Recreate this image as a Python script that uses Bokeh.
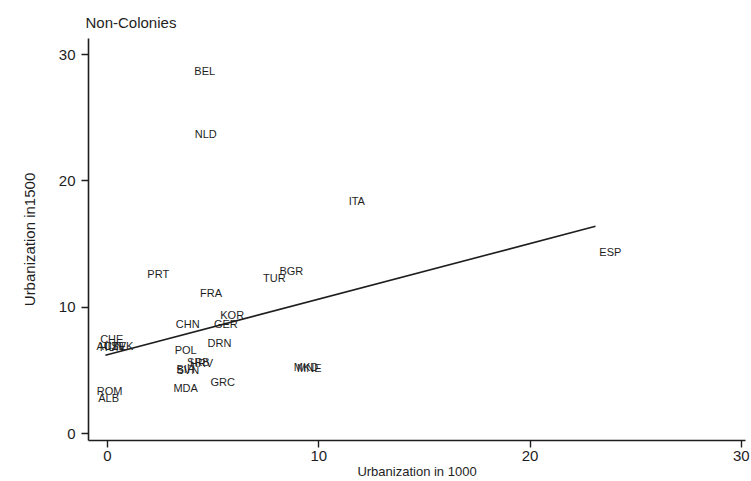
from bokeh.plotting import figure
from bokeh.models import ColumnDataSource, Range1d, FixedTicker
from bokeh.core.properties import value
from bokeh.embed import file_html
from bokeh.resources import INLINE

# Country codes with urbanization rates (%) in 1000 and 1500
countries = ["BEL", "NLD", "ITA", "ESP", "PRT", "BGR", "TUR", "FRA", "KOR",
             "CHN", "GER", "DRN", "POL", "SRB", "HRV", "BIH", "SVN", "MDA",
             "GRC", "MKD", "MNE", "CHE", "AUT", "CZE", "SVK", "HUN", "ROM", "ALB"]
urban_1000 = [4.6, 4.65, 11.8, 23.8, 2.4, 8.7, 7.9, 4.9, 5.9,
              3.8, 5.6, 5.3, 3.7, 4.3, 4.45, 3.7, 3.8, 3.7,
              5.45, 9.4, 9.55, 0.2, 0.0, 0.35, 0.7, 0.2, 0.1, 0.05]
urban_1500 = [28.7, 23.7, 18.4, 14.4, 12.6, 12.9, 12.3, 11.1, 9.4,
              8.65, 8.65, 7.15, 6.6, 5.65, 5.6, 5.1, 5.0, 3.6,
              4.05, 5.25, 5.2, 7.5, 6.9, 6.9, 6.9, 6.85, 3.4, 2.8]

# Fitted OLS line (urbanization 1500 on urbanization 1000) over the fitted span
fit_intercept = 6.24
fit_slope = 0.44
fit_x = [-0.1, 23.1]
fit_y = [fit_intercept + fit_slope * x for x in fit_x]

x_ticks = [0, 10, 20, 30]
y_ticks = [0, 10, 20, 30]

FONT = "Liberation Sans"
INK = "#1e1e1e"

p = figure(width=751, height=481, output_backend="svg", toolbar_location=None,
           x_range=Range1d(-0.9, 30.2), y_range=Range1d(-0.55, 31.27),
           min_border_left=88, min_border_right=6, min_border_top=38,
           min_border_bottom=41, title="Non-Colonies")

p.outline_line_color = None
p.grid.visible = False
p.background_fill_color = "white"
p.border_fill_color = "white"

p.title.text_font = FONT
p.title.text_font_size = "15px"
p.title.text_font_style = "normal"
p.title.text_color = INK
p.title.align = "left"
p.title.offset = -3
p.title.standoff = 16

src = ColumnDataSource(dict(x=urban_1000, y=urban_1500, name=countries))
p.text(x="x", y="y", text="name", source=src, text_font=value(FONT),
       text_font_size="11px", text_color=INK, text_align="center",
       text_baseline="middle")

p.line(fit_x, fit_y, line_color=INK, line_width=1.6)

for ax in (p.xaxis[0], p.yaxis[0]):
    ax.axis_line_color = INK
    ax.axis_line_width = 1.6
    ax.major_tick_line_color = INK
    ax.major_tick_line_width = 1.4
    ax.major_tick_out = 7
    ax.major_tick_in = 0
    ax.minor_tick_line_color = None
    ax.major_label_text_font = FONT
    ax.major_label_text_font_size = "15px"
    ax.major_label_text_color = INK
    ax.axis_label_text_font = FONT
    ax.axis_label_text_font_style = "normal"
    ax.axis_label_text_color = INK

p.xaxis.ticker = FixedTicker(ticks=x_ticks)
p.yaxis.ticker = FixedTicker(ticks=y_ticks)
p.xaxis.axis_label = "Urbanization in 1000"
p.yaxis.axis_label = "Urbanization in1500"
p.xaxis.axis_label_text_font_size = "13px"
p.yaxis.axis_label_text_font_size = "15px"
p.xaxis.major_label_standoff = 3
p.xaxis.axis_label_standoff = 0
p.yaxis.major_label_standoff = 6
p.yaxis.axis_label_standoff = 18

open("out.html", "w").write(file_html(p, INLINE))
